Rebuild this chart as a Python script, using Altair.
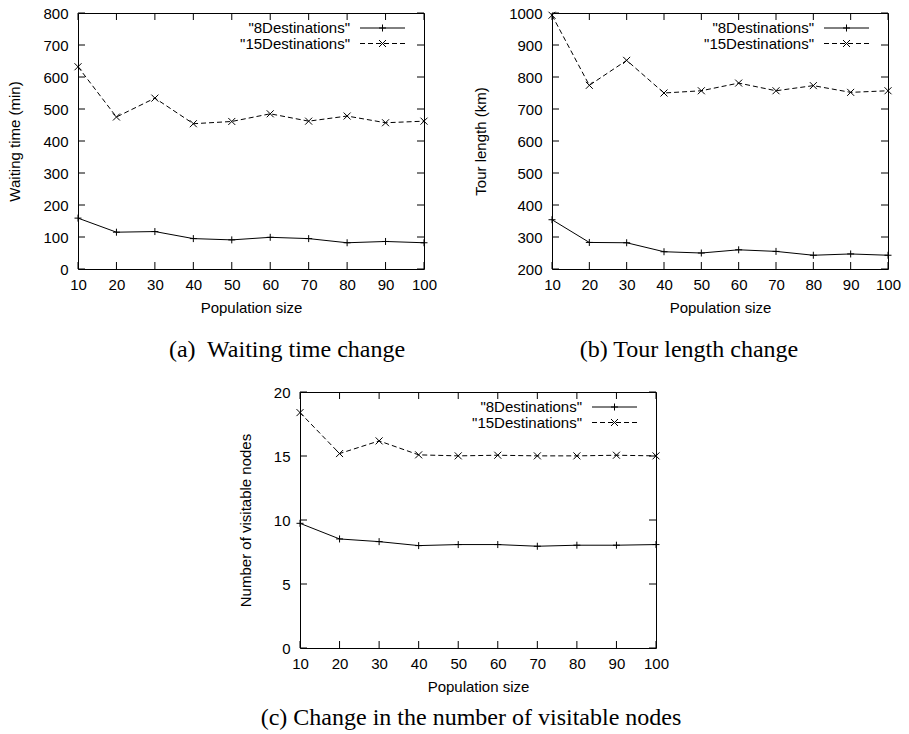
import altair as alt
import pandas as pd

# ---------------- data ----------------
population = [10, 20, 30, 40, 50, 60, 70, 80, 90, 100]
series_names = ['"8Destinations"', '"15Destinations"']

wait_8 = [159, 115, 117, 95, 91, 99, 95, 82, 86, 82]
wait_15 = [632, 475, 534, 454, 461, 485, 462, 478, 457, 462]

tour_8 = [354, 283, 282, 254, 250, 260, 255, 243, 247, 243]
tour_15 = [993, 774, 852, 750, 757, 781, 757, 773, 752, 757]

nodes_8 = [9.74, 8.52, 8.31, 8.0, 8.08, 8.08, 7.95, 8.03, 8.03, 8.08]
nodes_15 = [18.39, 15.19, 16.18, 15.09, 15.01, 15.06, 15.01, 15.01, 15.06, 15.01]

x_ticks = [10, 20, 30, 40, 50, 60, 70, 80, 90, 100]
wait_ticks = [0, 100, 200, 300, 400, 500, 600, 700, 800]
tour_ticks = [200, 300, 400, 500, 600, 700, 800, 900, 1000]
nodes_ticks = [0, 5, 10, 15, 20]

x_title = "Population size"
y_titles = ["Waiting time (min)", "Tour length (km)", "Number of visitable nodes"]
captions = ["(a)\u00a0 Waiting time change", "(b) Tour length change",
            "(c) Change in the number of visitable nodes"]

# ---------------- style ----------------
SANS = "Liberation Sans"
SERIF = "Liberation Serif"
FS = 15
H = 256
TICK = 7
PLUS = "M-1,0L1,0M0,-1L0,1"
XMARK = "M-1,-1L1,1M-1,1L1,-1"
DASH = [5, 3]


def panel(y8, y15, yticks, ytitle, width, caption, cap_x, cap_y):
    xs = alt.Scale(domain=[x_ticks[0], x_ticks[-1]], nice=False, zero=False)
    ys = alt.Scale(domain=[yticks[0], yticks[-1]], nice=False, zero=False)
    common = dict(ticks=False, domain=False, grid=False, format="d", labelFlush=False,
                  labelOverlap=False, labelFont=SANS, labelFontSize=FS, labelColor="black",
                  titleFont=SANS, titleFontSize=FS, titleFontWeight="normal",
                  titleColor="black")
    xaxis = alt.Axis(values=x_ticks, labelPadding=8, title=x_title, titlePadding=8, **common)
    yaxis = alt.Axis(values=yticks, labelPadding=10, title=ytitle, titlePadding=20, **common)

    def X(field="pop"):
        return alt.X(f"{field}:Q", scale=xs, axis=xaxis, title=x_title)

    def Y(field="val"):
        return alt.Y(f"{field}:Q", scale=ys, axis=yaxis, title=ytitle)

    d8 = pd.DataFrame({"pop": population, "val": y8})
    d15 = pd.DataFrame({"pop": population, "val": y15})

    line8 = alt.Chart(d8).mark_line(color="black", strokeWidth=1).encode(x=X(), y=Y())
    pts8 = alt.Chart(d8).mark_point(shape=PLUS, size=49, filled=False, color="black",
                                     strokeWidth=1, opacity=1).encode(x=X(), y=Y())
    line15 = alt.Chart(d15).mark_line(color="black", strokeWidth=1,
                                      strokeDash=DASH).encode(x=X(), y=Y())
    pts15 = alt.Chart(d15).mark_point(shape=XMARK, size=49, filled=False, color="black",
                                       strokeWidth=1, opacity=1).encode(x=X(), y=Y())

    yt = pd.DataFrame({"val": yticks})
    xt = pd.DataFrame({"pop": x_ticks})
    tick_left = alt.Chart(yt).mark_rule(color="black", strokeWidth=1).encode(
        y=Y(), x=alt.value(0), x2=alt.value(TICK))
    tick_right = alt.Chart(yt).mark_rule(color="black", strokeWidth=1).encode(
        y=Y(), x=alt.value(width - TICK), x2=alt.value(width))
    tick_bottom = alt.Chart(xt).mark_rule(color="black", strokeWidth=1).encode(
        x=X(), y=alt.value(H - TICK), y2=alt.value(H))
    tick_top = alt.Chart(xt).mark_rule(color="black", strokeWidth=1).encode(
        x=X(), y=alt.value(0), y2=alt.value(TICK))

    legend = []
    for i, (name, shape) in enumerate(zip(series_names, [PLUS, XMARK])):
        ly = 15 + 15.5 * i
        ld = pd.DataFrame({"label": [name]})
        legend.append(alt.Chart(ld).mark_text(align="right", baseline="middle", font=SANS,
                                              fontSize=FS, color="black").encode(
            text="label:N", x=alt.value(width - 74), y=alt.value(ly)))
        rule_kw = dict(color="black", strokeWidth=1)
        if i == 1:
            rule_kw["strokeDash"] = DASH
        legend.append(alt.Chart(ld).mark_rule(**rule_kw).encode(
            x=alt.value(width - 64), x2=alt.value(width - 19), y=alt.value(ly)))
        legend.append(alt.Chart(ld).mark_point(shape=shape, size=49, filled=False, color="black",
                                               strokeWidth=1, opacity=1).encode(
            x=alt.value(width - 41.5), y=alt.value(ly)))

    cap = alt.Chart(pd.DataFrame({"c": [caption]})).mark_text(
        align="center", baseline="alphabetic", font=SERIF, fontSize=24, color="black").encode(
        text="c:N", x=alt.value(cap_x), y=alt.value(cap_y))

    return alt.layer(line8, line15, pts8, pts15, tick_left, tick_right, tick_bottom, tick_top,
                     *legend, cap).properties(width=width, height=H)


pa = panel(wait_8, wait_15, wait_ticks, y_titles[0], 346, captions[0], 209, H + 88)
pb = panel(tour_8, tour_15, tour_ticks, y_titles[1], 336, captions[1], 137, H + 88)
pc = panel(nodes_8, nodes_15, nodes_ticks, y_titles[2], 356, captions[2], 171, H + 77)

spacer = alt.Chart(pd.DataFrame({"v": [0]})).mark_point(opacity=0).encode(
    x=alt.value(0), y=alt.value(0)).properties(
    width=159, height=1, view=alt.ViewBackground(strokeOpacity=0))

top = alt.hconcat(pa, pb, spacing=35)
bottom = alt.concat(spacer, pc, columns=2, spacing=0, align="each")

chart = alt.vconcat(top, bottom, spacing=21).properties(
    padding={"left": 7, "top": 5, "right": 0, "bottom": 0}
).configure_view(stroke="black", strokeWidth=1)

chart.save("out.html", embed_options={"renderer": "svg", "actions": False})
